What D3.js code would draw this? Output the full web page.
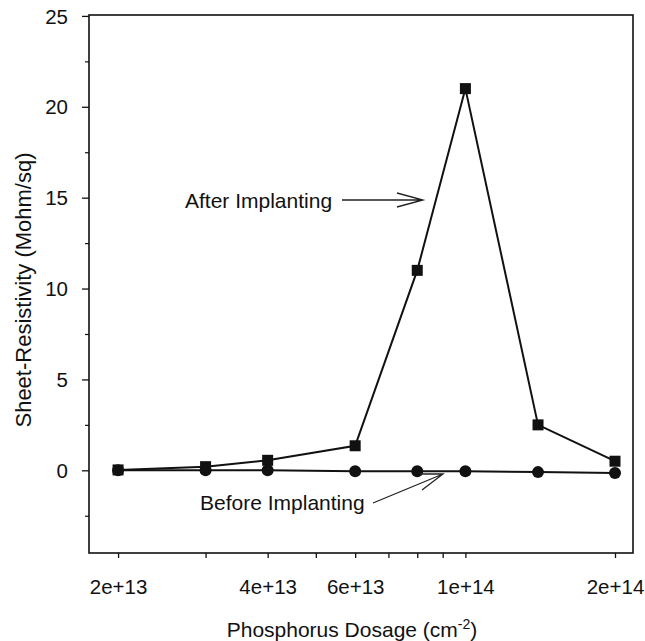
<!DOCTYPE html>
<html><head><meta charset="utf-8">
<script src="https://cdn.jsdelivr.net/npm/d3@7"></script>
<style>body{margin:0;background:#fff}svg{display:block}text{font-family:"Liberation Sans",Arial,sans-serif;fill:#111}</style>
</head><body>
<script>
const dosage = [2e13, 3e13, 4e13, 6e13, 8e13, 1e14, 1.4e14, 2e14];
const afterImplant = [0.02, 0.2, 0.55, 1.35, 11.0, 21.0, 2.5, 0.5];
const beforeImplant = [0, 0, 0, -0.05, -0.05, -0.05, -0.1, -0.15];
const xTickVals = [2e13, 3e13, 4e13, 5e13, 6e13, 7e13, 8e13, 9e13, 1e14, 2e14];
const xTickLabels = {2e13:"2e+13", 4e13:"4e+13", 6e13:"6e+13", 1e14:"1e+14", 2e14:"2e+14"};
const yMajor = [0, 5, 10, 15, 20, 25];
const yMinor = [-2.5, 2.5, 7.5, 12.5, 17.5, 22.5];

const W = 645, H = 641;
const L = 89, R = 633, T = 15, B = 553;
const FS = 20.5;
const svg = d3.select("body").append("svg").attr("width", W).attr("height", H);

const x = d3.scaleLog().domain([1.748e13, 2.174e14]).range([L, R]);
const y = d3.scaleLinear().domain([-4.55, 25.05]).range([B, T]);

svg.append("rect").attr("x", L).attr("y", T).attr("width", R - L).attr("height", B - T)
  .attr("fill", "none").attr("stroke", "#111").attr("stroke-width", 1.6);

const xa = svg.append("g").attr("transform", `translate(0,${B})`)
  .call(d3.axisBottom(x).tickValues(xTickVals).tickSize(5).tickSizeOuter(0)
    .tickFormat(d => xTickLabels[d] || ""));
xa.select(".domain").remove();
xa.selectAll("line").attr("stroke", "#111").attr("stroke-width", 1.3);
xa.selectAll("text").attr("font-size", FS).attr("y", 26).attr("dy", "0.71em");

const ya = svg.append("g").attr("transform", `translate(${L},0)`)
  .call(d3.axisLeft(y).tickValues(yMajor).tickSize(7).tickSizeOuter(0).tickFormat(d3.format("d")));
ya.select(".domain").remove();
ya.selectAll("line").attr("stroke", "#111").attr("stroke-width", 1.3);
ya.selectAll("text").attr("font-size", FS).attr("x", -21).attr("dy", "0.35em");
const yb = svg.append("g").attr("transform", `translate(${L},0)`)
  .call(d3.axisLeft(y).tickValues(yMinor).tickSize(4).tickFormat(""));
yb.select(".domain").remove();
yb.selectAll("line").attr("stroke", "#111").attr("stroke-width", 1.2);

svg.append("text").attr("transform", `translate(31,${290}) rotate(-90)`)
  .attr("text-anchor", "middle").attr("font-size", 22).text("Sheet-Resistivity (Mohm/sq)");
const xt = svg.append("text").attr("x", 352).attr("y", 637).attr("text-anchor", "middle").attr("font-size", 21);
xt.append("tspan").text("Phosphorus Dosage (cm");
xt.append("tspan").attr("font-size", 14).attr("dy", -8).text("-2");
xt.append("tspan").attr("dy", 8).text(")");

const line = d3.line().x(d => x(d[0])).y(d => y(d[1]));
const beforeData = dosage.map((d, i) => [d, beforeImplant[i]]);
const afterData = dosage.map((d, i) => [d, afterImplant[i]]);

svg.append("path").datum(beforeData).attr("d", line).attr("fill", "none").attr("stroke", "#111").attr("stroke-width", 2);
svg.append("path").datum(afterData).attr("d", line).attr("fill", "none").attr("stroke", "#111").attr("stroke-width", 2);

svg.selectAll(".circ").data(beforeData).enter().append("circle")
  .attr("cx", d => x(d[0])).attr("cy", d => y(d[1])).attr("r", 6).attr("fill", "#111");
svg.selectAll(".sq").data(afterData).enter().append("rect")
  .attr("x", d => x(d[0]) - 5.5).attr("y", d => y(d[1]) - 5.5).attr("width", 11).attr("height", 11).attr("fill", "#111");

svg.append("text").attr("x", 185).attr("y", 208).attr("font-size", 21).text("After Implanting");
svg.append("text").attr("x", 200).attr("y", 510).attr("font-size", 21).text("Before Implanting");
const ann = svg.append("g").attr("stroke", "#222").attr("stroke-width", 1.3).attr("fill", "none");
ann.append("path").attr("d", "M342,200 L423,200 M397,193 L423,200 L397,207");
ann.append("path").attr("d", "M373,503 L443,474 M420,474 L443,474 L422,490");
</script>
</body></html>
